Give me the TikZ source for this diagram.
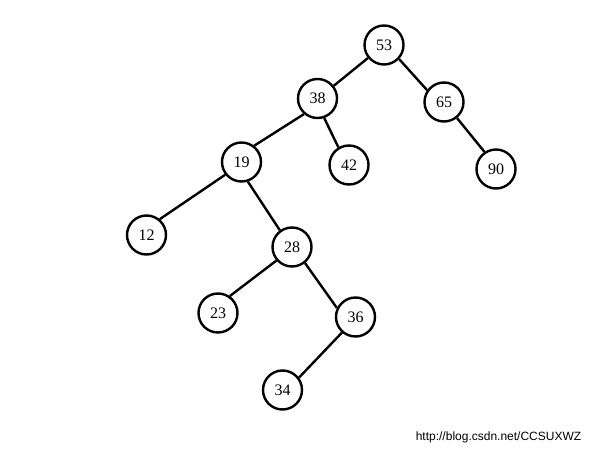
\documentclass[tikz,border=0pt]{standalone}
\usepackage{fontspec}
\setmainfont{Liberation Serif}
\newfontfamily\wmfont{Liberation Sans}
\begin{document}
\begin{tikzpicture}[x=1pt,y=-1pt,
  tn/.style={circle,draw=black,line width=2.4pt,minimum size=39pt,inner sep=0pt,font=\fontsize{16}{16}\selectfont},
  ed/.style={line width=2.4pt}]
\useasboundingbox[fill=white] (0,0) rectangle (593,454);
\node[tn] (n53) at (384,45) {53};
\node[tn] (n38) at (317.5,98.5) {38};
\node[tn] (n65) at (444,102) {65};
\node[tn] (n19) at (241.5,162) {19};
\node[tn] (n42) at (349,165) {42};
\node[tn] (n90) at (496,169) {90};
\node[tn] (n12) at (146.5,235) {12};
\node[tn] (n28) at (292,247) {28};
\node[tn] (n23) at (218,313) {23};
\node[tn] (n36) at (355.5,317) {36};
\node[tn] (n34) at (282.5,390) {34};
\draw[ed] (n53.219) -- (n38.38);
\draw[ed] (n53.317) -- (n65.145);
\draw[ed] (n38.229) -- (n19.52);
\draw[ed] (n38.289) -- (n42.121);
\draw[ed] (n19.218) -- (n12.50);
\draw[ed] (n19.288) -- (n28.126);
\draw[ed] (n28.221) -- (n23.55);
\draw[ed] (n28.309) -- (n36.154);
\draw[ed] (n36.229) -- (n34.37);
\draw[ed] (n65.309) -- (n90.124);
\node[font=\wmfont\fontsize{12}{12}\selectfont] (wm) at (498.5,437) {http://blog.csdn.net/CCSUXWZ};
\end{tikzpicture}
\end{document}
